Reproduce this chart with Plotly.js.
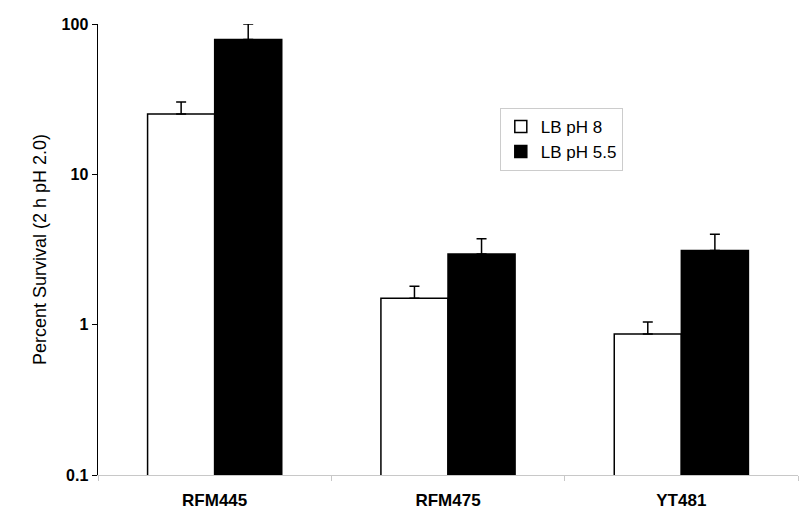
<!DOCTYPE html>
<html>
<head>
<meta charset="utf-8">
<script src="https://cdn.plot.ly/plotly-3.0.1.min.js"></script>
<style>html,body{margin:0;padding:0;background:#fff;}#chart{width:800px;height:524px;}</style>
</head>
<body>
<div id="chart"></div>
<script>
var strains = ["RFM445", "RFM475", "YT481"];
var seriesNames = ["LB pH 8", "LB pH 5.5"];
var survivalPH8 = [25.2, 1.50, 0.867];
var errorPH8 = [5.1, 0.30, 0.175];
var survivalPH55 = [79, 2.95, 3.12];
var errorPH55 = [21, 0.78, 0.87];
var yTickVals = [0.1, 1, 10, 100];
var yTickText = ["0.1", "1", "10", "100"];

var traces = [
  {
    type: "bar", name: seriesNames[0], x: strains, y: survivalPH8,
    marker: {color: "#ffffff", line: {color: "#000000", width: 1.5}},
    error_y: {type: "data", array: errorPH8, symmetric: false, arrayminus: [0,0,0], color: "#000000", thickness: 1.5, width: 5}
  },
  {
    type: "bar", name: seriesNames[1], x: strains, y: survivalPH55,
    marker: {color: "#000000", line: {color: "#000000", width: 1.5}},
    error_y: {type: "data", array: errorPH55, symmetric: false, arrayminus: [0,0,0], color: "#000000", thickness: 1.5, width: 5}
  }
];

var layout = {
  width: 800, height: 524,
  margin: {l: 98, r: 2, t: 24, b: 49},
  paper_bgcolor: "#ffffff", plot_bgcolor: "#ffffff",
  font: {family: "'Liberation Sans', Arial, sans-serif", color: "#000000"},
  barmode: "group", bargap: 0.425, bargroupgap: 0,
  showlegend: true,
  legend: {x: 0.574, y: 0.814, xanchor: "left", yanchor: "top", bordercolor: "#cccccc", borderwidth: 1,
           font: {size: 17}, bgcolor: "#ffffff", tracegroupgap: 0, itemwidth: 30},
  xaxis: {
    type: "category", showline: true, linecolor: "#c8c8c8", linewidth: 1,
    ticks: "outside", tickson: "boundaries", ticklen: 5, tickcolor: "#c8c8c8",
    ticklabelstandoff: 10,
    tickfont: {size: 17, weight: "bold"}, showgrid: false, zeroline: false
  },
  yaxis: {
    type: "log", range: [-1, 2], showline: true, linecolor: "#000000", linewidth: 1.5,
    ticks: "outside", ticklen: 5, tickcolor: "#000000",
    tickvals: yTickVals, ticktext: yTickText,
    tickfont: {size: 16, weight: "bold"}, showgrid: false, zeroline: false,
    title: {text: "Percent Survival (2 h pH 2.0)", font: {size: 18}, standoff: 10}
  }
};

Plotly.newPlot("chart", traces, layout, {displayModeBar: false, staticPlot: true});
</script>
</body>
</html>
